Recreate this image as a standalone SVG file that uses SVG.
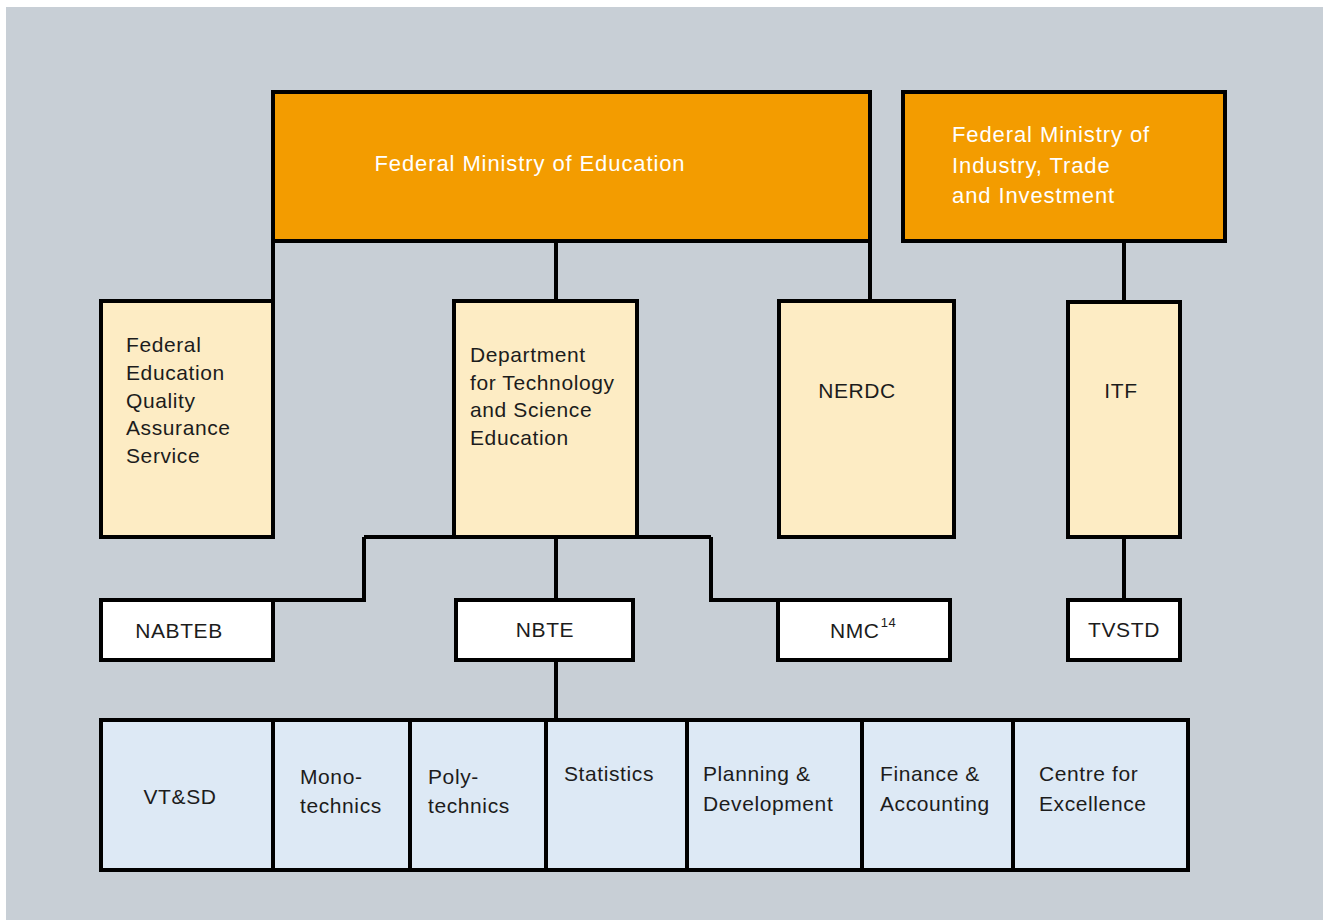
<svg xmlns="http://www.w3.org/2000/svg" width="1323" height="920" viewBox="0 0 1323 920">
<style>
.box{stroke:#000;stroke-width:4}
.or{fill:#f39c00}
.ye{fill:#fdecc4}
.wh{fill:#ffffff}
.bl{fill:#dde9f5}
.t{font-family:"Liberation Sans",Arial,sans-serif;font-size:21px;fill:#1c1c1c;letter-spacing:0.6px}
.tw{font-family:"Liberation Sans",Arial,sans-serif;font-size:22px;fill:#ffffff;letter-spacing:0.9px}
.c{text-anchor:middle}
.conn{fill:none;stroke:#000;stroke-width:4}
</style>
<rect x="6" y="7" width="1317" height="913" fill="#c8cfd6"/>
<g id="connectors" class="conn">
<path d="M273 241V301"/>
<path d="M556 241V301"/>
<path d="M870 241V301"/>
<path d="M1124 241V302"/>
<path d="M364 537H711"/>
<path d="M364 537V600H273"/>
<path d="M556 537V600"/>
<path d="M711 537V600H778"/>
<path d="M1124 537V600"/>
<path d="M556 660V720"/>
</g>
<g id="fme">
<rect class="box or" x="273" y="92" width="597" height="149"/>
<text class="tw c" x="530" y="171">Federal Ministry of Education</text>
</g>
<g id="fmiti">
<rect class="box or" x="903" y="92" width="322" height="149"/>
<text class="tw" x="952" y="142">Federal Ministry of</text>
<text class="tw" x="952" y="173">Industry, Trade</text>
<text class="tw" x="952" y="203">and Investment</text>
</g>
<g id="feqas">
<rect class="box ye" x="101" y="301" width="172" height="236"/>
<text class="t" x="126" y="352">Federal</text>
<text class="t" x="126" y="380">Education</text>
<text class="t" x="126" y="408">Quality</text>
<text class="t" x="126" y="435">Assurance</text>
<text class="t" x="126" y="463">Service</text>
</g>
<g id="dtse">
<rect class="box ye" x="454" y="301" width="183" height="236"/>
<text class="t" x="470" y="362">Department</text>
<text class="t" x="470" y="390">for Technology</text>
<text class="t" x="470" y="417">and Science</text>
<text class="t" x="470" y="445">Education</text>
</g>
<g id="nerdc">
<rect class="box ye" x="779" y="301" width="175" height="236"/>
<text class="t c" x="857" y="398">NERDC</text>
</g>
<g id="itf">
<rect class="box ye" x="1068" y="302" width="112" height="235"/>
<text class="t c" x="1121" y="398">ITF</text>
</g>
<g id="nabteb">
<rect class="box wh" x="101" y="600" width="172" height="60"/>
<text class="t c" x="179" y="638">NABTEB</text>
</g>
<g id="nbte">
<rect class="box wh" x="456" y="600" width="177" height="60"/>
<text class="t c" x="545" y="637">NBTE</text>
</g>
<g id="nmc">
<rect class="box wh" x="778" y="600" width="172" height="60"/>
<text class="t" x="830" y="638">NMC<tspan font-size="13" dy="-11" dx="1">14</tspan></text>
</g>
<g id="tvstd">
<rect class="box wh" x="1068" y="600" width="112" height="60"/>
<text class="t c" x="1124" y="637">TVSTD</text>
</g>
<g id="vtsd">
<rect class="box bl" x="101" y="720" width="172" height="150"/>
<text class="t c" x="180" y="804">VT&amp;SD</text>
</g>
<g id="mono">
<rect class="box bl" x="273" y="720" width="137" height="150"/>
<text class="t" x="300" y="784">Mono-</text>
<text class="t" x="300" y="813">technics</text>
</g>
<g id="poly">
<rect class="box bl" x="410" y="720" width="136" height="150"/>
<text class="t" x="428" y="784">Poly-</text>
<text class="t" x="428" y="813">technics</text>
</g>
<g id="statistics">
<rect class="box bl" x="546" y="720" width="141" height="150"/>
<text class="t" x="564" y="781">Statistics</text>
</g>
<g id="planning">
<rect class="box bl" x="687" y="720" width="175" height="150"/>
<text class="t" x="703" y="781">Planning &amp;</text>
<text class="t" x="703" y="811">Development</text>
</g>
<g id="finance">
<rect class="box bl" x="862" y="720" width="151" height="150"/>
<text class="t" x="880" y="781">Finance &amp;</text>
<text class="t" x="880" y="811">Accounting</text>
</g>
<g id="centre">
<rect class="box bl" x="1013" y="720" width="175" height="150"/>
<text class="t" x="1039" y="781">Centre for</text>
<text class="t" x="1039" y="811">Excellence</text>
</g>
</svg>
